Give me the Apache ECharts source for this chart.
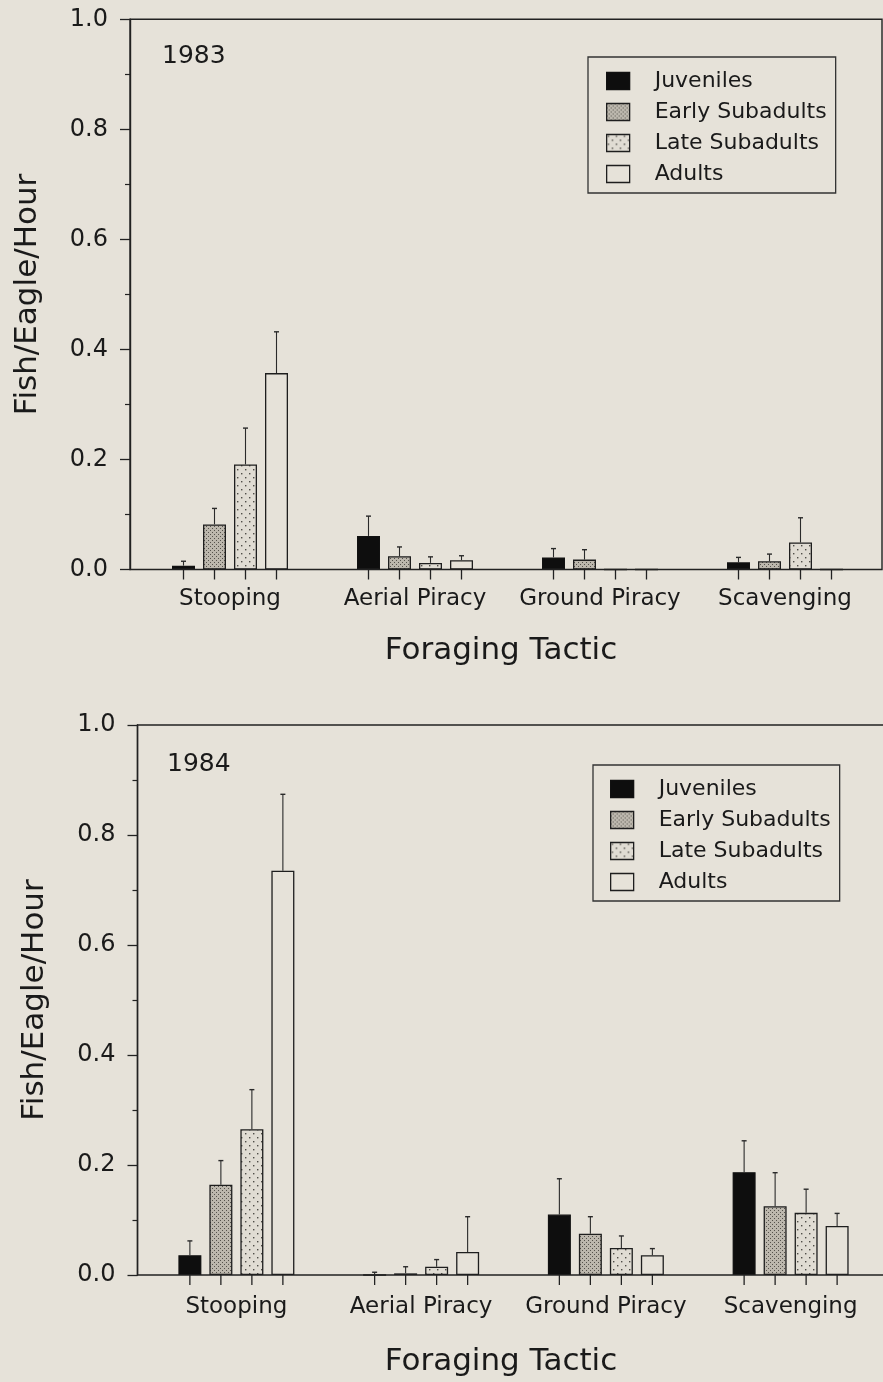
<!DOCTYPE html>
<html>
<head>
<meta charset="utf-8">
<script src="https://cdn.jsdelivr.net/npm/echarts@6/dist/echarts.min.js"></script>
<style>
html,body{margin:0;padding:0;background:#e6e2d9;}
#chart{width:883px;height:1382px;}
</style>
</head>
<body>
<div id="chart"></div>
<script>
// ---------- data ----------
const categories = ['Stooping', 'Aerial Piracy', 'Ground Piracy', 'Scavenging'];
const groups = ['Juveniles', 'Early Subadults', 'Late Subadults', 'Adults'];
const yTickLabels = ['0.0', '0.2', '0.4', '0.6', '0.8', '1.0'];

// 1983 means and mean+SE (error bar tops)
const juv1983 = [0.007, 0.061, 0.022, 0.013];
const juvErr1983 = [0.015, 0.097, 0.038, 0.022];
const early1983 = [0.082, 0.024, 0.018, 0.015];
const earlyErr1983 = [0.111, 0.041, 0.036, 0.028];
const late1983 = [0.191, 0.012, 0, 0.049];
const lateErr1983 = [0.257, 0.023, null, 0.094];
const adult1983 = [0.357, 0.017, 0, 0];
const adultErr1983 = [0.432, 0.025, null, null];

// 1984
const juv1984 = [0.036, 0, 0.110, 0.187];
const juvErr1984 = [0.062, 0.005, 0.175, 0.244];
const early1984 = [0.164, 0.003, 0.075, 0.125];
const earlyErr1984 = [0.208, 0.015, 0.106, 0.186];
const late1984 = [0.265, 0.015, 0.049, 0.113];
const lateErr1984 = [0.337, 0.028, 0.071, 0.156];
const adult1984 = [0.735, 0.042, 0.036, 0.089];
const adultErr1984 = [0.874, 0.106, 0.048, 0.112];

// ---------- styles ----------
const FONT = '"DejaVu Sans", Arial, sans-serif';
const INK = '#1a1a1a';
const BG = '#e6e2d9';
const BAR_W = 23;
const BAR_GAP_PX = 8;
const PITCH = BAR_W + BAR_GAP_PX;
const TICK_LEN = 10;

function makePattern(size, bg, dots, dotColor, r) {
  const c = document.createElement('canvas');
  c.width = size; c.height = size;
  const ctx = c.getContext('2d');
  ctx.fillStyle = bg; ctx.fillRect(0, 0, size, size);
  ctx.fillStyle = dotColor;
  dots.forEach(d => { ctx.fillRect(d[0], d[1], r, r); });
  return { image: c, repeat: 'repeat' };
}
const earlyFill = makePattern(4, '#bcb7ad', [[0, 0], [2, 2]], '#55524c', 1);
const lateFill = makePattern(8, '#e0dcd3', [[1, 1], [5, 5]], '#4f4d48', 1.4);

const groupStyles = [
  { color: '#0e0e0e', borderColor: '#111', borderWidth: 1.3 },
  { color: earlyFill, borderColor: '#1e1e1e', borderWidth: 1.3 },
  { color: lateFill, borderColor: '#1e1e1e', borderWidth: 1.3 },
  { color: BG, borderColor: '#1e1e1e', borderWidth: 1.3 }
];

const years = [
  { label: '1983', means: [juv1983, early1983, late1983, adult1983],
    errs: [juvErr1983, earlyErr1983, lateErr1983, adultErr1983] },
  { label: '1984', means: [juv1984, early1984, late1984, adult1984],
    errs: [juvErr1984, earlyErr1984, lateErr1984, adultErr1984] }
];

// ---------- layout ----------
const panels = [
  { gridLeft: 137.5, gridTop: 19.3, gridH: 550.2, axisX: 130, frameRight: 882,
    labelMargin: 18, yearX: 162, yearY: 56, titleX: 501, titleY: 651,
    legendLeft: 588, legendTop: 57, legendPadLeft: 18 },
  { gridLeft: 144, gridTop: 725, gridH: 550, axisX: 137.5, frameRight: 900,
    labelMargin: 21, yearX: 167, yearY: 764, titleX: 501, titleY: 1362,
    legendLeft: 593, legendTop: 765, legendPadLeft: 17 }
];
const GRID_W = 740;

function errRender(params, api) {
  const cat = api.value(0), s = api.value(1), v = api.value(2), e = api.value(3);
  const base = api.coord([cat, 0]);
  const x = base[0] + (s - 1.5) * PITCH;
  const y0 = base[1];
  const st = { stroke: '#222', lineWidth: 1.3 };
  const children = [
    { type: 'line', shape: { x1: x, y1: y0, x2: x, y2: y0 + TICK_LEN }, style: st }
  ];
  if (!isNaN(e) && e != null) {
    const yv = api.coord([cat, v])[1];
    const ye = api.coord([cat, e])[1];
    children.push({ type: 'line', shape: { x1: x, y1: yv, x2: x, y2: ye }, style: { stroke: '#2a2a2a', lineWidth: 1.1 } });
    children.push({ type: 'line', shape: { x1: x - 2.5, y1: ye, x2: x + 2.5, y2: ye }, style: { stroke: '#2a2a2a', lineWidth: 1.4 } });
  }
  return { type: 'group', children: children };
}

const grid = [], xAxis = [], yAxis = [], series = [], legend = [], graphic = [];

panels.forEach((p, pi) => {
  grid.push({ left: p.gridLeft, top: p.gridTop, width: GRID_W, height: p.gridH });
  xAxis.push({
    type: 'category', gridIndex: pi, data: categories,
    axisLine: { show: false }, axisTick: { show: false },
    axisLabel: { color: INK, fontFamily: FONT, fontSize: 23, margin: p.labelMargin, interval: 0 }
  });
  yAxis.push({
    type: 'value', gridIndex: pi, min: 0, max: 1, interval: 0.2,
    offset: p.gridLeft - p.axisX,
    name: 'Fish/Eagle/Hour', nameLocation: 'middle', nameRotate: 90, nameGap: 87,
    nameTextStyle: { color: INK, fontFamily: FONT, fontSize: 31 },
    axisLine: { show: true, lineStyle: { color: '#222', width: 1.4 } },
    axisTick: { show: true, length: 10, lineStyle: { color: '#222', width: 1.3 } },
    minorTick: { show: true, splitNumber: 2, length: 5, lineStyle: { color: '#222', width: 1.2 } },
    splitLine: { show: false },
    axisLabel: {
      color: INK, fontFamily: FONT, fontSize: 24, margin: 22,
      formatter: v => yTickLabels[Math.round(v / 0.2)]
    }
  });

  const yr = years[pi];
  const errData = [];
  groups.forEach((g, gi) => {
    series.push({
      type: 'bar', name: g, xAxisIndex: pi, yAxisIndex: pi,
      data: yr.means[gi], barWidth: BAR_W, barGap: (BAR_GAP_PX / BAR_W * 100) + '%',
      itemStyle: groupStyles[gi], emphasis: { disabled: true }, silent: true, z: 2
    });
    categories.forEach((c, ci) => {
      const e = yr.errs[gi][ci];
      errData.push([ci, gi, yr.means[gi][ci], e == null ? NaN : e]);
    });
  });
  series.push({
    type: 'custom', name: 'err' + yr.label, xAxisIndex: pi, yAxisIndex: pi,
    renderItem: errRender, data: errData, encode: { x: 0, y: 2 }, z: 5, silent: true
  });

  legend.push({
    orient: 'vertical', left: p.legendLeft, top: p.legendTop,
    padding: [13, 9, 8, p.legendPadLeft],
    itemWidth: 23, itemHeight: 17, itemGap: 9,
    borderColor: '#333', borderWidth: 1.3, borderRadius: 0,
    selectedMode: false, icon: 'rect',
    textStyle: { color: INK, fontFamily: FONT, fontSize: 22, padding: [0, 0, 0, 20] },
    data: groups.map((g, gi) => ({ name: g, icon: 'rect', itemStyle: groupStyles[gi] }))
  });

  graphic.push({
    type: 'rect', silent: true, z: 10,
    shape: { x: p.axisX, y: p.gridTop, width: p.frameRight - p.axisX, height: p.gridH },
    style: { fill: 'none', stroke: '#222', lineWidth: 1.4 }
  });
  graphic.push({
    type: 'text', silent: true, x: p.yearX, y: p.yearY,
    style: { text: yr.label, fill: INK, font: '25px ' + FONT, textAlign: 'left', textVerticalAlign: 'middle' }
  });
  graphic.push({
    type: 'text', silent: true, x: p.titleX, y: p.titleY,
    style: { text: 'Foraging Tactic', fill: INK, font: '31px ' + FONT, textAlign: 'center', textVerticalAlign: 'middle' }
  });
});

const chart = echarts.init(document.getElementById('chart'), null, { renderer: 'canvas' });
chart.setOption({
  backgroundColor: BG,
  animation: false,
  grid: grid, xAxis: xAxis, yAxis: yAxis,
  legend: legend, series: series, graphic: graphic
});
</script>
</body>
</html>
